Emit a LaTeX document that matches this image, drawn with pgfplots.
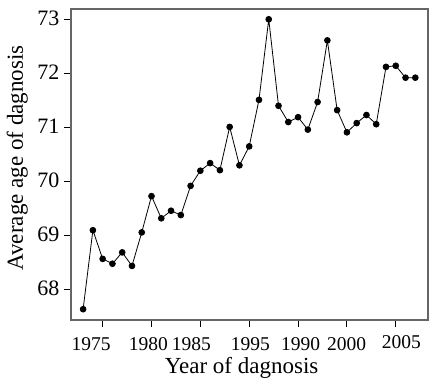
\documentclass[border=0pt]{standalone}
\usepackage{pgfplots}
\pgfplotsset{compat=1.18}
\usepackage{fontspec}
\setmainfont{Liberation Serif}
\begin{document}
\begin{tikzpicture}
\begin{axis}[
  scale only axis, width=357pt, height=311pt,
  xmin=1971.76, xmax=2008.3, ymin=67.44, ymax=73.19,
  xtick pos=bottom, ytick pos=left,
  tick align=outside, major tick length=7pt,
  axis line style={draw=black!60, line width=1.2pt},
  tick style={black, line width=0.9pt},
  xtick={1975,1980,...,2005},
  xticklabels={},
  extra x ticks={1973.83,1979.67,1984.07,1990.12,1995.27,1999.96,2005.57},
  extra x tick labels={1975,1980,1985,1995,1990,2000,{\raisebox{2pt}{2005}}},
  extra x tick style={major tick length=0pt, tick style={draw=none},
    xticklabel style={anchor=base, yshift=-30pt}},
  xticklabel style={font=\fontsize{19.5}{20}\selectfont},
  ytick={68,69,70,71,72,73},
  yticklabels={68,69,70,71,72,73},
  yticklabel style={font=\fontsize{22}{22}\selectfont, xshift=-1pt, yshift=1pt},
  label style={font=\fontsize{23}{24}\selectfont},
  xlabel={Year of dagnosis}, ylabel={Average age of dagnosis},
  xlabel style={at={(axis description cs:0.478,0)}, anchor=base, yshift=-53pt},
  ylabel style={at={(axis description cs:0,0.521)}, anchor=base, yshift=48pt},
]
\addplot[black, line width=0.8pt, mark=*, mark size=2.9pt] coordinates {
(1973,67.64) (1974,69.10) (1975,68.57) (1976,68.48) (1977,68.69) (1978,68.44)
(1979,69.06) (1980,69.73) (1981,69.32) (1982,69.46) (1983,69.38) (1984,69.92)
(1985,70.20) (1986,70.34) (1987,70.21) (1988,71.01) (1989,70.30) (1990,70.65)
(1991,71.51) (1992,73.00) (1993,71.40) (1994,71.10) (1995,71.19) (1996,70.96)
(1997,71.47) (1998,72.61) (1999,71.32) (2000,70.91) (2001,71.08) (2002,71.23)
(2003,71.06) (2004,72.12) (2005,72.14) (2006,71.92) (2007,71.92)
};
\end{axis}
\pgfresetboundingbox
\path[use as bounding box] (-71pt,-70pt) rectangle (372pt,320pt);
\end{tikzpicture}
\end{document}
